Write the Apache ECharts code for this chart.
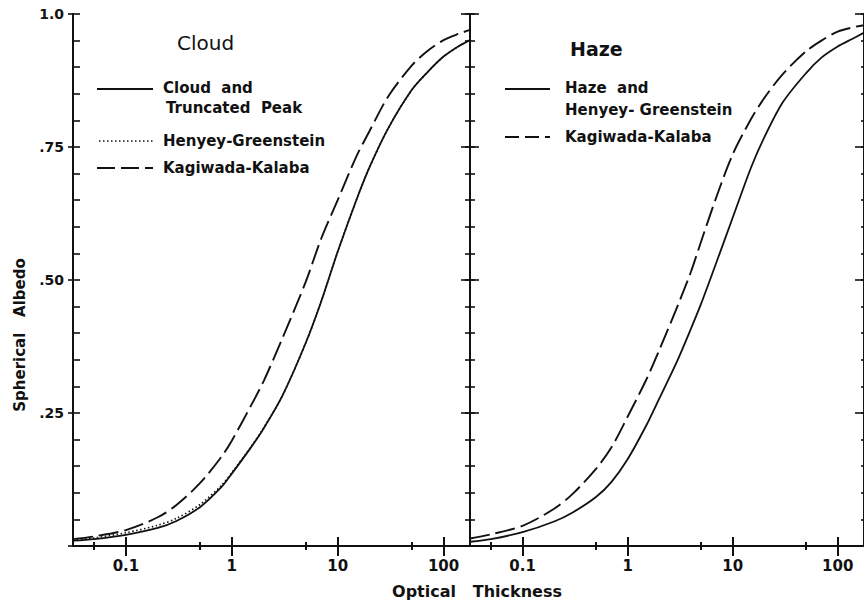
<!DOCTYPE html>
<html>
<head>
<meta charset="utf-8">
<script src="https://cdn.jsdelivr.net/npm/echarts@6/dist/echarts.min.js"></script>
<style>html,body{margin:0;padding:0;background:#fff}#c{width:864px;height:612px}</style>
</head>
<body>
<div id="c"></div>
<script>
// ---- Data ----
const cloudX = [0.0316, 0.05, 0.1, 0.2, 0.3, 0.5, 0.8, 1, 1.5, 2, 3, 5, 7, 10, 15, 20, 30, 50, 70, 100, 140, 178];
const cloudTruncated = [0.010, 0.013, 0.021, 0.034, 0.047, 0.073, 0.111, 0.136, 0.184, 0.221, 0.282, 0.382, 0.460, 0.553, 0.650, 0.712, 0.785, 0.857, 0.890, 0.920, 0.940, 0.951];
const cloudHenyey = [0.011, 0.015, 0.025, 0.039, 0.052, 0.078, 0.114, 0.138, 0.185, 0.222, 0.282, 0.382, 0.460, 0.553, 0.650, 0.712, 0.785, 0.857, 0.890, 0.920, 0.940, 0.951];
const cloudKagiwada = [0.013, 0.018, 0.030, 0.054, 0.077, 0.118, 0.168, 0.198, 0.262, 0.310, 0.390, 0.497, 0.578, 0.650, 0.732, 0.780, 0.845, 0.903, 0.930, 0.951, 0.963, 0.970];

const hazeX = [0.0316, 0.05, 0.1, 0.2, 0.3, 0.5, 0.7, 1, 1.5, 2, 3, 4, 5, 7, 10, 15, 20, 30, 50, 70, 100, 140, 178];
const hazeHenyey = [0.008, 0.013, 0.026, 0.046, 0.063, 0.092, 0.120, 0.163, 0.226, 0.277, 0.350, 0.408, 0.455, 0.533, 0.617, 0.712, 0.768, 0.834, 0.889, 0.918, 0.939, 0.954, 0.965];
const hazeKagiwada = [0.014, 0.022, 0.038, 0.070, 0.098, 0.145, 0.185, 0.243, 0.312, 0.368, 0.452, 0.515, 0.572, 0.656, 0.736, 0.803, 0.842, 0.887, 0.930, 0.950, 0.967, 0.975, 0.979];

const xMajorTicks = [0.1, 1, 10, 100];
const xMajorLabels = ['0.1', '1', '10', '100'];
const xMinorTicks = [0.05, 0.5, 5, 50];
const yTickLabels = {0: '', 0.25: '.25', 0.5: '.50', 0.75: '.75', 1: '1.0'};

const xMin = Math.pow(10, -1.5);
const xMax = Math.pow(10, 2.25);

function pairs(xs, ys) { return xs.map((x, i) => [x, ys[i]]); }

const FONT = '"DejaVu Sans", sans-serif';
const INK = '#111';

function xAx(grid, pos, ticks, len, labels) {
  return {
    type: 'log', logBase: 10, gridIndex: grid, position: pos, min: xMin, max: xMax,
    axisLine: {show: true, lineStyle: {color: INK, width: 2}},
    axisTick: {show: true, inside: true, length: len, lineStyle: {color: INK, width: 2}, customValues: ticks},
    axisLabel: labels ? {
      show: true, customValues: ticks, margin: 12,
      formatter: v => { const i = xMajorTicks.findIndex(t => Math.abs(t - v) / t < 1e-6); return i >= 0 ? xMajorLabels[i] : ''; },
      color: INK, fontFamily: FONT, fontWeight: 'bold', fontSize: 15
    } : {show: false},
    splitLine: {show: false}, minorTick: {show: false}
  };
}
function yAx(grid, pos, interval, len, inside, labels) {
  return {
    type: 'value', gridIndex: grid, position: pos, min: 0, max: 1, interval: interval,
    axisLine: {show: true, lineStyle: {color: INK, width: 2}},
    axisTick: {show: true, inside: inside, length: len, lineStyle: {color: INK, width: 1.6}},
    axisLabel: labels ? {
      show: true, margin: 9, color: INK, fontFamily: FONT, fontWeight: 'bold', fontSize: 14,
      formatter: v => { const k = Math.round(v * 100) / 100; return yTickLabels[k] !== undefined ? yTickLabels[k] : ''; }
    } : {show: false},
    splitLine: {show: false}
  };
}

const xAxes = [
  xAx(0, 'bottom', xMajorTicks, 9, true),
  xAx(0, 'bottom', xMinorTicks, 4, false),
  xAx(0, 'top', xMajorTicks, 10, false),
  xAx(0, 'top', xMinorTicks, 4, false),
  xAx(1, 'bottom', xMajorTicks, 9, true),
  xAx(1, 'bottom', xMinorTicks, 4, false),
  xAx(1, 'top', xMajorTicks, 10, false),
  xAx(1, 'top', xMinorTicks, 4, false)
];
const yAxes = [
  yAx(0, 'left', 0.05, 7, true, false),
  yAx(0, 'left', 0.25, 5, false, true),
  yAx(0, 'right', 0.05, 5, true, false),
  yAx(0, 'right', 0.25, 9, true, false),
  yAx(1, 'left', 0.05, 5, true, false),
  yAx(1, 'left', 0.25, 9, true, false),
  yAx(1, 'right', 0.05, 3, true, false),
  yAx(1, 'right', 0.25, 9, true, false)
];

function lineSeries(name, data, xi, yi, dash, w) {
  return {
    name: name, type: 'line', xAxisIndex: xi, yAxisIndex: yi, data: data,
    showSymbol: false, smooth: 0.3, silent: true,
    lineStyle: {color: INK, width: w, type: dash}
  };
}

const series = [
  lineSeries('Cloud and Truncated Peak', pairs(cloudX, cloudTruncated), 0, 0, 'solid', 1.8),
  lineSeries('Henyey-Greenstein', pairs(cloudX, cloudHenyey), 0, 0, [1.5, 2.5], 1.6),
  lineSeries('Kagiwada-Kalaba', pairs(cloudX, cloudKagiwada), 0, 0, [20, 6], 1.9),
  lineSeries('Haze and Henyey-Greenstein', pairs(hazeX, hazeHenyey), 4, 4, 'solid', 1.8),
  lineSeries('Kagiwada-Kalaba (Haze)', pairs(hazeX, hazeKagiwada), 4, 4, [20, 6], 1.9)
];

function txt(x, y, s, size, weight, extra) {
  return Object.assign({
    type: 'text', x: x, y: y, silent: true,
    style: {text: s, fill: INK, font: weight + ' ' + size + 'px ' + FONT, align: 'left', verticalAlign: 'middle'}
  }, extra || {});
}
function seg(x1, x2, y, dash, w) {
  return {type: 'line', silent: true, shape: {x1: x1, y1: y, x2: x2, y2: y},
    style: {stroke: INK, lineWidth: w, lineDash: dash}};
}

const graphics = [
  txt(177, 43, 'Cloud', 20, 'normal'),
  seg(97, 153, 89, null, 1.8),
  txt(163, 88, 'Cloud  and', 15, 'bold'),
  txt(166, 108, 'Truncated  Peak', 15, 'bold'),
  seg(99, 153, 141, [1.5, 2.5], 1.6),
  txt(163, 141, 'Henyey-Greenstein', 15, 'bold'),
  seg(97, 153, 168, [18, 6], 1.9),
  txt(163, 168, 'Kagiwada-Kalaba', 15, 'bold'),

  txt(570, 49, 'Haze', 19, 'bold'),
  seg(505, 550, 89, null, 1.8),
  txt(565, 88, 'Haze  and', 15, 'bold'),
  txt(565, 110, 'Henyey- Greenstein', 15, 'bold'),
  seg(505, 550, 137, [14, 6], 1.9),
  txt(565, 137, 'Kagiwada-Kalaba', 15, 'bold'),

  {type: 'text', x: 477, y: 591, silent: true,
   style: {text: 'Optical   Thickness', fill: INK, font: 'bold 16px ' + FONT, align: 'center', verticalAlign: 'middle'}},
  {type: 'text', x: 20, y: 335, rotation: Math.PI / 2, silent: true,
   style: {text: 'Spherical   Albedo', fill: INK, font: 'bold 15px ' + FONT, align: 'center', verticalAlign: 'middle'}}
];

const chart = echarts.init(document.getElementById('c'), null, {renderer: 'svg'});
chart.setOption({
  backgroundColor: '#fff',
  animation: false,
  grid: [
    {left: 73, top: 14, width: 397, height: 532},
    {left: 470, top: 14, width: 397, height: 532}
  ],
  xAxis: xAxes,
  yAxis: yAxes,
  series: series,
  graphic: graphics
});
</script>
</body>
</html>
